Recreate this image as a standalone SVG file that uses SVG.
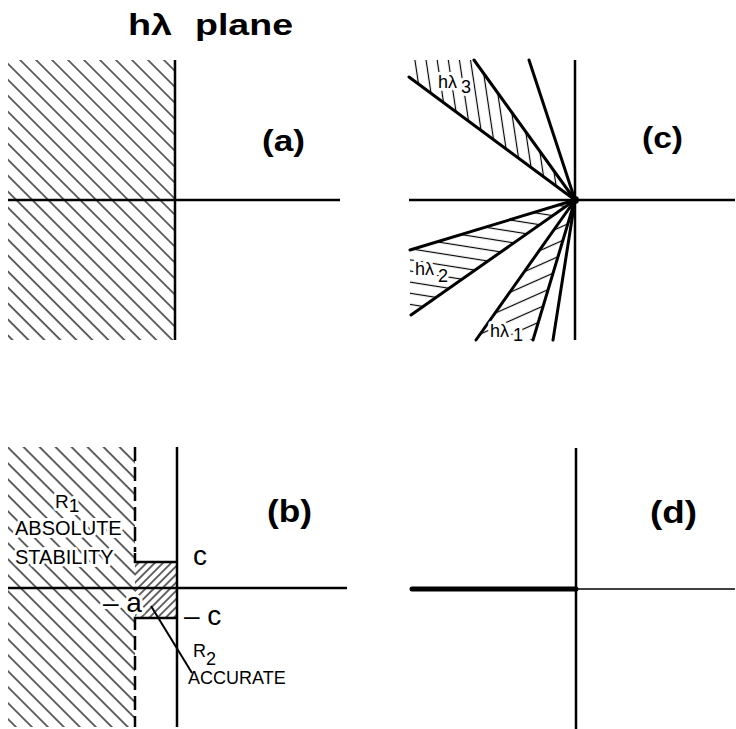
<svg xmlns="http://www.w3.org/2000/svg" width="736" height="729" viewBox="0 0 736 729">
<style>
.ax{stroke:#000;stroke-width:2.5;fill:none}
.ray{stroke:#000;stroke-width:3;fill:none;stroke-linecap:round}
.hl{stroke:#000;stroke-width:1.2}
.t{font-family:"Liberation Sans",Arial,sans-serif;fill:#000}
.big{font-size:30px;font-weight:bold}
.halo{stroke:#fff;stroke-width:6;paint-order:stroke;stroke-linejoin:round}
</style>
<defs>
<pattern id="hR1" patternUnits="userSpaceOnUse" width="20" height="11.3" patternTransform="rotate(45)"><line x1="0" y1="5.6" x2="20" y2="5.6" class="hl"/></pattern>
<pattern id="hR2" patternUnits="userSpaceOnUse" width="20" height="5.8" patternTransform="rotate(-45)"><line x1="0" y1="2.9" x2="20" y2="2.9" class="hl"/></pattern>
<pattern id="h3" patternUnits="userSpaceOnUse" width="20" height="11" patternTransform="rotate(81.5)"><line x1="0" y1="5.5" x2="20" y2="5.5" class="hl"/></pattern>
<pattern id="h2" patternUnits="userSpaceOnUse" width="20" height="11" patternTransform="rotate(9)"><line x1="0" y1="5.5" x2="20" y2="5.5" class="hl"/></pattern>
<pattern id="h1" patternUnits="userSpaceOnUse" width="20" height="13" patternTransform="rotate(-24)"><line x1="0" y1="6.5" x2="20" y2="6.5" class="hl"/></pattern>
</defs>

<rect width="736" height="729" fill="#fff"/>

<g id="title">
<text class="t big" x="128" y="35" textLength="44" lengthAdjust="spacingAndGlyphs">hλ</text>
<text class="t big" x="195" y="35" textLength="98" lengthAdjust="spacingAndGlyphs">plane</text>
</g>

<g id="panel-a">
<rect x="8" y="60" width="167" height="280" fill="url(#hR1)"/>
<line class="ax" x1="175" y1="60" x2="175" y2="340"/>
<line class="ax" x1="8" y1="200" x2="340" y2="200"/>
<text class="t big" x="262" y="151" textLength="43" lengthAdjust="spacingAndGlyphs">(a)</text>
</g>

<g id="panel-c">
<polygon points="575,200 409,77 409,60 474,60" fill="url(#h3)"/>
<polygon points="575,200 410,250 410,315" fill="url(#h2)"/>
<polygon points="575,200 476,340 533,340" fill="url(#h1)"/>
<line class="ax" x1="575" y1="60" x2="575" y2="340"/>
<line class="ax" x1="409" y1="200" x2="735" y2="200"/>
<line class="ray" x1="575" y1="200" x2="409" y2="77"/>
<line class="ray" x1="575" y1="200" x2="474" y2="60"/>
<line class="ray" x1="575" y1="200" x2="529" y2="60"/>
<line class="ray" x1="575" y1="200" x2="410" y2="250"/>
<line class="ray" x1="575" y1="200" x2="411" y2="315"/>
<line class="ray" x1="575" y1="200" x2="476" y2="340"/>
<line class="ray" x1="575" y1="200" x2="533" y2="340"/>
<line class="ray" x1="575" y1="200" x2="553" y2="340"/>
<circle cx="575" cy="200" r="4" fill="#000"/>
<text class="t halo" x="438" y="88" font-size="18">hλ<tspan dx="4" dy="5">3</tspan></text>
<text class="t halo" x="415" y="275" font-size="18">hλ<tspan dx="4" dy="7">2</tspan></text>
<text class="t halo" x="490" y="337" font-size="18">hλ<tspan dx="4" dy="4">1</tspan></text>
<text class="t big" x="642" y="148" textLength="41" lengthAdjust="spacingAndGlyphs">(c)</text>
</g>

<g id="panel-b">
<rect x="8" y="447" width="127" height="280" fill="url(#hR1)"/>
<rect x="135" y="562" width="42" height="56" fill="url(#hR2)"/>
<line class="ax" x1="177" y1="447" x2="177" y2="727"/>
<line class="ax" x1="8" y1="588" x2="347" y2="588"/>
<line class="ax" x1="135" y1="447" x2="135" y2="552" stroke-dasharray="14 6"/>
<path class="ax" d="M135,553 V562 H177"/>
<path class="ax" d="M177,618 H135 V630"/>
<line class="ax" x1="135" y1="636" x2="135" y2="727" stroke-dasharray="14 6"/>
<text class="t halo" x="55" y="508" font-size="19">R<tspan dy="4">1</tspan></text>
<text class="t halo" x="15" y="535" font-size="20">ABSOLUTE</text>
<text class="t halo" x="15" y="564" font-size="20">STABILITY</text>
<text class="t halo" x="103" y="612" font-size="28">– a</text>
<text class="t" x="193" y="565" font-size="28">c</text>
<text class="t" x="184" y="625" font-size="28">– c</text>
<text class="t" x="193" y="657" font-size="18">R<tspan dy="8">2</tspan></text>
<text class="t" x="188" y="684" font-size="18">ACCURATE</text>
<text class="t big" x="267" y="522" textLength="45" lengthAdjust="spacingAndGlyphs" style="font-size:32px">(b)</text>
</g>

<g id="panel-d">
<line class="ax" x1="576" y1="448" x2="576" y2="729" stroke-width="2"/>
<line x1="576" y1="589" x2="735" y2="589" stroke="#000" stroke-width="1.5"/>
<line x1="412" y1="589" x2="576" y2="589" stroke="#000" stroke-width="5" stroke-linecap="round"/>
<text class="t big" x="650" y="523" textLength="47" lengthAdjust="spacingAndGlyphs" style="font-size:32px">(d)</text>
</g>

<g id="connectors">
<line x1="151" y1="606" x2="192" y2="673" stroke="#000" stroke-width="2"/>
</g>
</svg>
